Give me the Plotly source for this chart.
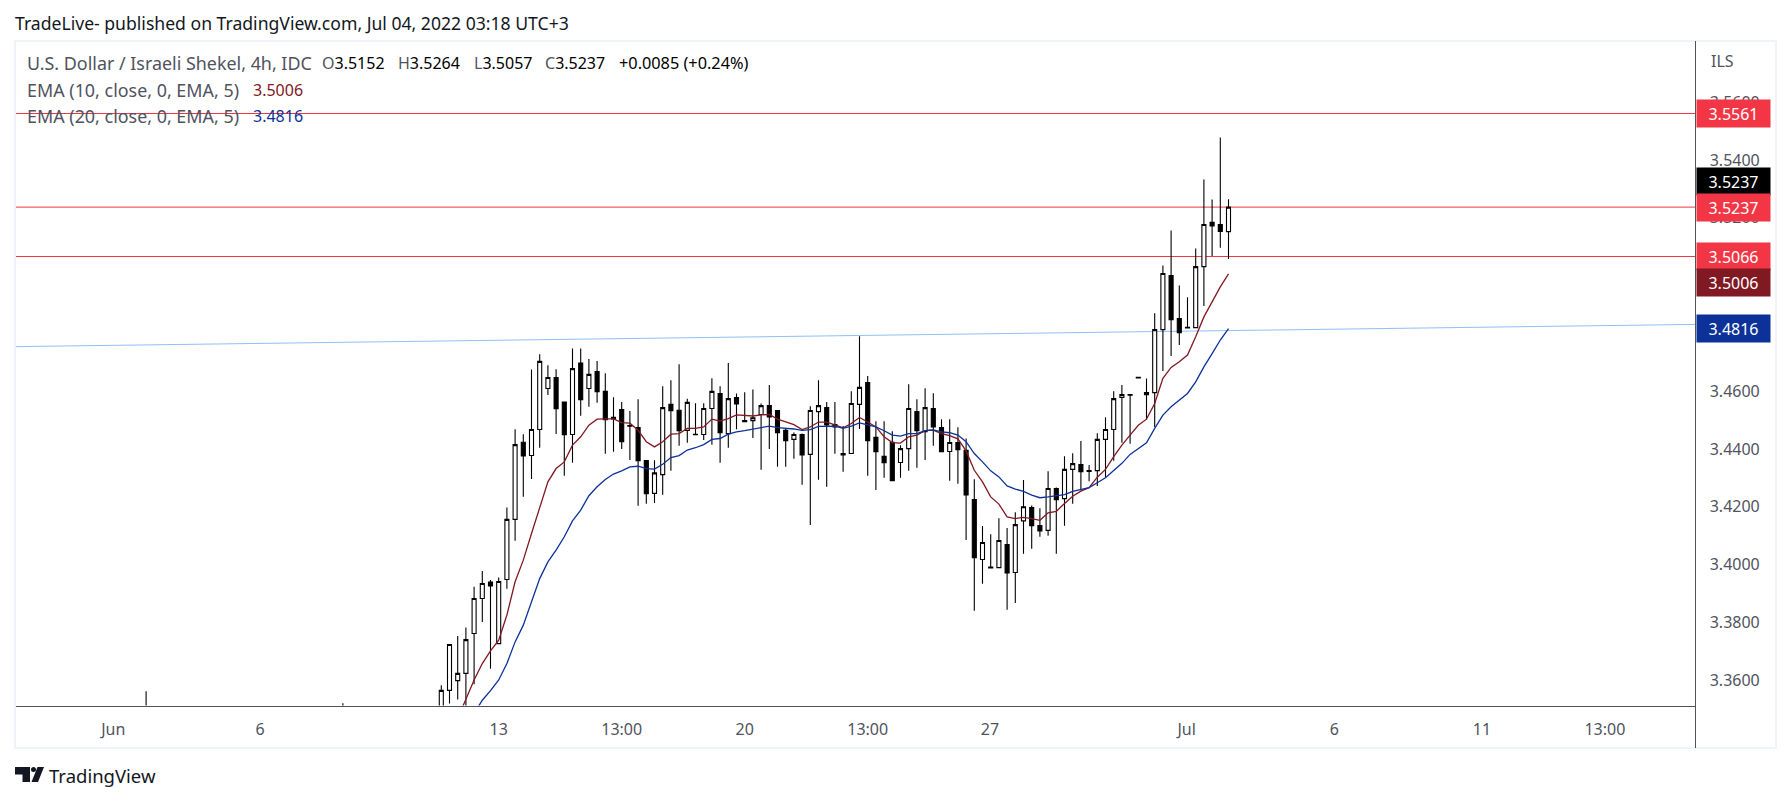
import plotly.graph_objects as go

W, H = 1791, 801

# candle index (x) runs in 4h bars; two early bars only poke above the bottom of the pane
early_x = [-36, -12]
early_open = [3.3420, 3.3480]
early_high = [3.3561, 3.3520]
early_low = [3.3350, 3.3400]
early_close = [3.3450, 3.3460]

opens = [3.3450,3.3564,3.3598,3.3623,3.3761,3.3882,3.3939,3.3726,3.3948,3.4156,
3.4423,3.4377,3.4467,3.4609,3.4647,3.4562,3.4450,3.4697,3.4609,3.4668,
3.4599,3.4509,3.4536,3.4481,3.4474,3.4360,3.4246,3.4311,3.4554,3.4534,
3.4464,3.4451,3.4450,3.4540,3.4592,3.4453,3.4578,3.4498,3.4498,3.4519,
3.4550,3.4533,3.4464,3.4433,3.4450,3.4381,3.4529,3.4543,3.4484,3.4384,
3.4384,3.4554,3.4630,3.4440,3.4374,3.4423,3.4353,3.4401,3.4529,3.4460,
3.4540,3.4474,3.4391,3.4422,3.4395,3.4225,3.4017,3.3991,3.3989,3.4069,
3.3972,3.4151,3.4197,3.4135,3.4118,3.4263,3.4228,3.4329,3.4346,3.4325,
3.4325,3.4433,3.4467,3.4578,3.4588,3.4648,3.4588,3.4595,3.4813,3.5000,
3.4851,3.4821,3.4820,3.5031,3.5184,3.5177,3.5152]
highs = [3.3582,3.3723,3.3752,3.3782,3.3923,3.3977,3.3946,3.3955,3.4197,3.4468,
3.4451,3.4675,3.4728,3.4690,3.4676,3.4562,3.4748,3.4748,3.4711,3.4704,
3.4662,3.4579,3.4562,3.4531,3.4572,3.4360,3.4361,3.4617,3.4638,3.4693,
3.4574,3.4558,3.4558,3.4645,3.4617,3.4697,3.4592,3.4596,3.4606,3.4557,
3.4621,3.4535,3.4471,3.4457,3.4453,3.4548,3.4638,3.4562,3.4562,3.4479,
3.4600,3.4790,3.4652,3.4496,3.4496,3.4461,3.4413,3.4624,3.4572,3.4610,
3.4593,3.4503,3.4503,3.4475,3.4436,3.4295,3.4133,3.4105,3.4160,3.4126,
3.4181,3.4292,3.4204,3.4195,3.4323,3.4266,3.4375,3.4385,3.4427,3.4344,
3.4454,3.4510,3.4600,3.4621,3.4588,3.4648,3.4644,3.4870,3.5035,3.5156,
3.4966,3.4925,3.5094,3.5333,3.5263,3.5478,3.5264]
lows = [3.3426,3.3519,3.3533,3.3484,3.3585,3.3801,3.3639,3.3726,3.3916,3.4082,
3.4234,3.4296,3.4404,3.4587,3.4452,3.4307,3.4352,3.4515,3.4546,3.4560,
3.4383,3.4390,3.4400,3.4362,3.4203,3.4210,3.4213,3.4241,3.4324,3.4411,
3.4421,3.4449,3.4431,3.4414,3.4352,3.4404,3.4468,3.4494,3.4438,3.4328,
3.4400,3.4338,3.4338,3.4366,3.4276,3.4137,3.4293,3.4269,3.4383,3.4321,
3.4384,3.4469,3.4307,3.4258,3.4300,3.4290,3.4300,3.4324,3.4335,3.4362,
3.4411,3.4390,3.4290,3.4279,3.4085,3.3840,3.3933,3.3988,3.3989,3.3843,
3.3867,3.4037,3.4054,3.4096,3.4099,3.4037,3.4134,3.4210,3.4257,3.4288,
3.4272,3.4302,3.4359,3.4421,3.4418,3.4646,3.4502,3.4476,3.4670,3.4722,
3.4760,3.4820,3.4820,3.4895,3.5068,3.5096,3.5057]
closes = [3.3564,3.3723,3.3623,3.3740,3.3882,3.3934,3.3926,3.3941,3.4156,3.4415,
3.4376,3.4467,3.4703,3.4647,3.4539,3.4449,3.4678,3.4570,3.4658,3.4598,
3.4501,3.4504,3.4425,3.4479,3.4359,3.4245,3.4317,3.4543,3.4532,3.4463,
3.4561,3.4449,3.4540,3.4599,3.4456,3.4574,3.4556,3.4494,3.4508,3.4550,
3.4511,3.4456,3.4428,3.4450,3.4379,3.4533,3.4550,3.4483,3.4476,3.4379,
3.4557,3.4613,3.4428,3.4390,3.4352,3.4290,3.4401,3.4540,3.4463,3.4543,
3.4476,3.4390,3.4422,3.4397,3.4241,3.4023,3.4076,3.3988,3.4083,3.3971,
3.4138,3.4200,3.4134,3.4116,3.4263,3.4224,3.4329,3.4349,3.4321,3.4322,
3.4433,3.4467,3.4574,3.4588,3.4586,3.4646,3.4595,3.4813,3.5007,3.4847,
3.4802,3.4819,3.5031,3.5177,3.5172,3.5153,3.5237]

ema10_start = 2
ema10 = [3.3467,3.3536,3.3600,3.3657,3.3701,3.3738,3.3825,3.3940,3.4015,3.4107,3.4200,
3.4286,3.4332,3.4355,3.4413,3.4442,3.4482,3.4503,3.4504,3.4504,3.4491,
3.4489,3.4465,3.4425,3.4407,3.4425,3.4451,3.4453,3.4471,3.4471,3.4476,
3.4503,3.4496,3.4505,3.4518,3.4516,3.4514,3.4518,3.4519,3.4503,3.4494,
3.4484,3.4467,3.4476,3.4493,3.4493,3.4483,3.4473,3.4488,3.4509,3.4493,
3.4476,3.4442,3.4422,3.4420,3.4442,3.4448,3.4463,3.4465,3.4453,3.4446,
3.4435,3.4393,3.4326,3.4286,3.4234,3.4209,3.4165,3.4159,3.4163,3.4159,
3.4153,3.4179,3.4184,3.4211,3.4236,3.4254,3.4266,3.4302,3.4329,3.4373,
3.4413,3.4448,3.4482,3.4503,3.4557,3.4644,3.4682,3.4702,3.4725,3.4788,
3.4857,3.4909,3.4961,3.5006]
ema20_start = 4
ema20 = [3.3484,3.3530,3.3563,3.3600,3.3657,3.3732,3.3790,3.3871,3.3951,3.4009,3.4050,
3.4096,3.4151,3.4188,3.4238,3.4269,3.4294,3.4313,3.4324,3.4338,3.4340,
3.4332,3.4330,3.4347,3.4370,3.4377,3.4396,3.4404,3.4415,3.4433,3.4436,
3.4451,3.4459,3.4463,3.4468,3.4475,3.4479,3.4474,3.4472,3.4469,3.4464,
3.4467,3.4478,3.4479,3.4479,3.4471,3.4479,3.4490,3.4484,3.4476,3.4463,
3.4448,3.4444,3.4453,3.4453,3.4463,3.4466,3.4459,3.4456,3.4448,3.4425,
3.4384,3.4355,3.4324,3.4303,3.4272,3.4261,3.4253,3.4240,3.4231,3.4234,
3.4238,3.4242,3.4253,3.4260,3.4266,3.4283,3.4300,3.4325,3.4350,3.4381,
3.4402,3.4421,3.4471,3.4517,3.4546,3.4569,3.4592,3.4632,3.4684,3.4730,
3.4777,3.4816]

hlevels = [3.5561, 3.5237, 3.5066]
trend_prices = [3.4754, 3.4831]
y_ticks = [3.36, 3.38, 3.40, 3.42, 3.44, 3.46, 3.48, 3.50, 3.52, 3.54, 3.56]
x_tickvals = [-40, -22.1, 7, 22, 37, 52, 66.9, 90.9, 108.9, 126.9, 141.9]
x_ticktext = ["Jun", "6", "13", "13:00", "20", "13:00", "27", "Jul", "6", "11", "13:00"]

GREY = "#50535e"
RED = "#f23645"
FONT = "Noto Sans"

# pane in pixels
PL, PR, PT, PB = 16, 1695.5, 41, 705.5
bar_x0, bar_dx = 441.3, 8.2
x_range = [(PL - bar_x0) / bar_dx, (PR - bar_x0) / bar_dx]
y_range = [3.35118, 3.58120]

def px(x): return x / W
def py(y): return 1 - y / H

n = len(closes)
idx = list(range(n))

fig = go.Figure()
fig.add_trace(go.Candlestick(
    x=early_x + idx,
    open=early_open + opens, high=early_high + highs,
    low=early_low + lows, close=early_close + closes,
    increasing=dict(line=dict(color="#000000", width=1.1), fillcolor="#ffffff"),
    decreasing=dict(line=dict(color="#000000", width=1.1), fillcolor="#000000"),
    whiskerwidth=0, showlegend=False, hoverinfo="skip",
))
fig.add_trace(go.Scatter(x=list(range(ema10_start, ema10_start + len(ema10))), y=ema10, mode="lines",
                         line=dict(color="#801922", width=1.3), showlegend=False, hoverinfo="skip"))
fig.add_trace(go.Scatter(x=list(range(ema20_start, ema20_start + len(ema20))), y=ema20, mode="lines",
                         line=dict(color="#0c3299", width=1.3), showlegend=False, hoverinfo="skip"))

shapes = [
    dict(type="rect", xref="paper", yref="paper", x0=px(15), x1=px(1776), y0=py(748), y1=py(41),
         line=dict(color="#f0f3fa", width=2), layer="below"),
    dict(type="line", xref="paper", yref="paper", x0=px(PR), x1=px(PR), y0=py(748), y1=py(41),
         line=dict(color=GREY, width=1), layer="above"),
    dict(type="line", xref="x domain", yref="y", x0=0, x1=1, y0=trend_prices[0], y1=trend_prices[1],
         line=dict(color="#90bff9", width=1), layer="below"),
]
for lv in hlevels:
    shapes.append(dict(type="line", xref="x domain", yref="y", x0=0, x1=1, y0=lv, y1=lv,
                       line=dict(color=RED, width=1), layer="below"))

# TradingView logo mark
shapes += [
    dict(type="path", xref="paper", yref="paper", fillcolor="#131722", line=dict(width=0),
         path=f"M{px(15)},{py(767)} L{px(30)},{py(767)} L{px(30)},{py(782)} L{px(22.5)},{py(782)} L{px(22.5)},{py(774.5)} L{px(15)},{py(774.5)} Z"),
    dict(type="circle", xref="paper", yref="paper", fillcolor="#131722", line=dict(width=0),
         x0=px(31), x1=px(36), y0=py(772), y1=py(767)),
    dict(type="path", xref="paper", yref="paper", fillcolor="#131722", line=dict(width=0),
         path=f"M{px(37.5)},{py(767)} L{px(44)},{py(767)} L{px(38)},{py(782)} L{px(31.5)},{py(782)} Z"),
]

def txt(x, y, s, color=GREY, size=16, anchor="left", family=FONT):
    return dict(xref="paper", yref="paper", x=px(x), y=py(y), text=s, showarrow=False,
                xanchor=anchor, yanchor="middle", borderpad=0, borderwidth=0,
                font=dict(family=family, size=size, color=color))

ann = [
    txt(15, 23, "TradeLive- published on TradingView.com, Jul 04, 2022 03:18 UTC+3", color="#131722", size=17.6),
    txt(27, 63.5, "U.S. Dollar / Israeli Shekel, 4h, IDC", size=17.9),
    txt(322, 63.5, "O<span style='color:#000000'>3.5152</span>"),
    txt(398, 63.5, "H<span style='color:#000000'>3.5264</span>"),
    txt(474, 63.5, "L<span style='color:#000000'>3.5057</span>"),
    txt(545, 63.5, "C<span style='color:#000000'>3.5237</span>"),
    txt(619, 63.5, "+0.0085 (+0.24%)", color="#000000", size=16.3),
    txt(27, 90, "EMA (10, close, 0, EMA, 5)", size=17.9),
    txt(253, 90, "3.5006", color="#801922"),
    txt(27, 116, "EMA (20, close, 0, EMA, 5)", size=17.9),
    txt(253, 116, "3.4816", color="#0c3299"),
    txt(1711, 61, "ILS", size=16),
    txt(49, 775, "TradingView", color="#131722", size=18.5),
]

def tag(price, label, bg, yshift=0):
    return dict(xref="paper", yref="y", x=px(PR), y=price, text=label, showarrow=False,
                xanchor="left", yanchor="middle", yshift=yshift, width=67, height=21, align="center",
                bgcolor=bg, borderpad=3, font=dict(family=FONT, size=16, color="#ffffff"))

ann += [
    tag(3.5561, "3.5561", RED),
    tag(3.5237, "3.5237", "#000000", yshift=26),
    tag(3.5237, "3.5237", RED),
    tag(3.5066, "3.5066", RED),
    tag(3.5006, "3.5006", "#801922", yshift=-8.7),
    tag(3.4816, "3.4816", "#0c3299"),
]

fig.update_layout(
    width=W, height=H, autosize=False,
    margin=dict(l=0, r=0, t=0, b=0),
    paper_bgcolor="#ffffff", plot_bgcolor="#ffffff",
    showlegend=False, shapes=shapes, annotations=ann,
    font=dict(family=FONT, color=GREY),
    xaxis=dict(domain=[px(PL), px(PR)], range=x_range, rangeslider=dict(visible=False),
               tickmode="array", tickvals=x_tickvals, ticktext=x_ticktext,
               showgrid=False, zeroline=False, showline=True, linecolor=GREY, linewidth=1,
               ticks="outside", ticklen=9, tickcolor="rgba(0,0,0,0)",
               tickfont=dict(family=FONT, size=16, color=GREY)),
    yaxis=dict(domain=[py(PB), py(PT)], range=y_range, side="right",
               tickmode="array", tickvals=y_ticks, tickformat=".4f",
               showgrid=False, zeroline=False, showline=False,
               ticks="outside", ticklen=10, tickcolor="rgba(0,0,0,0)",
               tickfont=dict(family=FONT, size=16, color=GREY)),
)

post = "document.body.style.margin='0';document.body.style.overflow='hidden';"
fig.write_html("out.html", post_script=post, config=dict(displayModeBar=False, staticPlot=True))
